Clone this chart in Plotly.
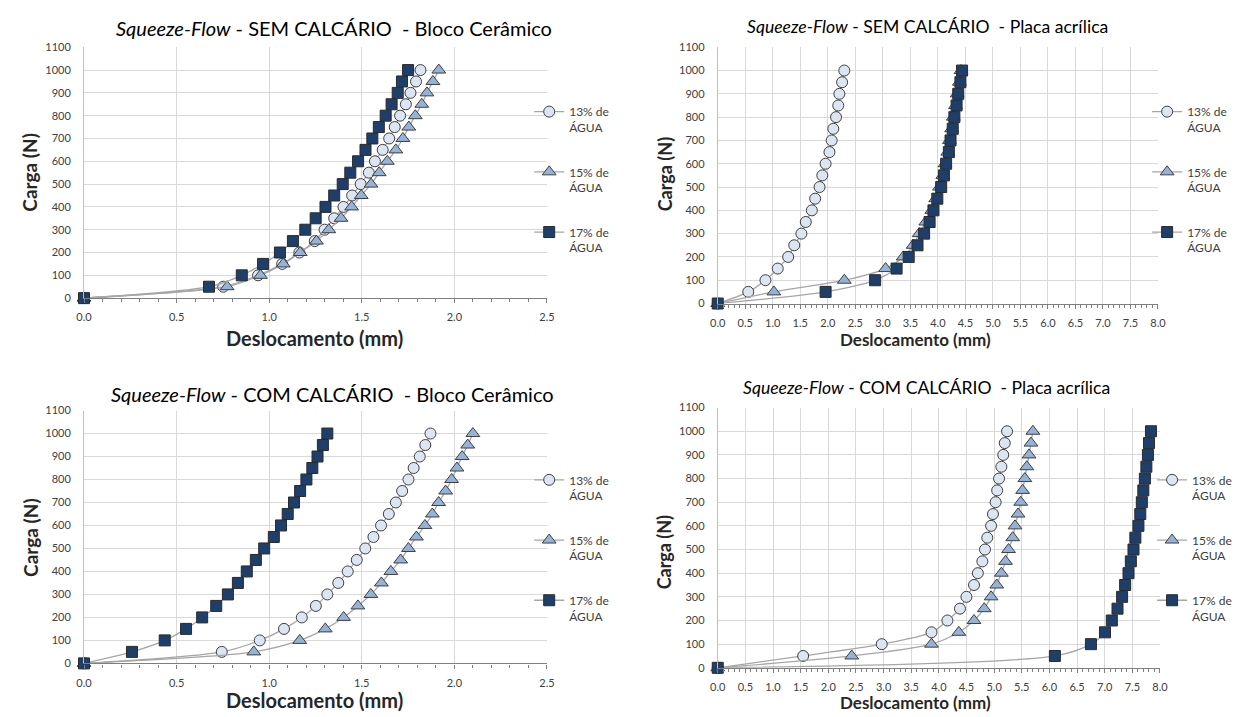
import plotly.graph_objects as go

W, H = 1242, 717

# ---------------- data ----------------
carga = [0, 50, 100, 150, 200, 250, 300, 350, 400, 450, 500,
         550, 600, 650, 700, 750, 800, 850, 900, 950, 1000]

series_names = ["13% de<br>ÁGUA", "15% de<br>ÁGUA", "17% de<br>ÁGUA"]

# Panel 1: SEM CALCÁRIO - Bloco Cerâmico
p1_13 = [0, 0.752, 0.940, 1.070, 1.163, 1.246, 1.299, 1.351, 1.401, 1.448, 1.494,
         1.538, 1.571, 1.613, 1.648, 1.678, 1.707, 1.738, 1.763, 1.793, 1.817]
p1_15 = [0, 0.773, 0.953, 1.076, 1.167, 1.255, 1.322, 1.388, 1.445, 1.497, 1.550,
         1.594, 1.638, 1.684, 1.722, 1.754, 1.789, 1.824, 1.852, 1.884, 1.916]
p1_17 = [0, 0.675, 0.852, 0.967, 1.058, 1.128, 1.195, 1.251, 1.304, 1.351, 1.397,
         1.438, 1.480, 1.520, 1.557, 1.592, 1.629, 1.661, 1.694, 1.717, 1.750]

# Panel 2: SEM CALCÁRIO - Placa acrílica
p2_13 = [0, 0.555, 0.867, 1.09, 1.28, 1.39, 1.52, 1.60, 1.71, 1.77, 1.85,
         1.90, 1.96, 2.03, 2.07, 2.10, 2.15, 2.19, 2.21, 2.26, 2.30]
p2_15 = [0, 1.02, 2.30, 3.05, 3.37, 3.55, 3.66, 3.78, 3.89, 3.96, 4.03,
         4.09, 4.13, 4.18, 4.21, 4.25, 4.28, 4.32, 4.35, 4.39, 4.42]
p2_17 = [0, 1.96, 2.86, 3.25, 3.47, 3.63, 3.75, 3.85, 3.92, 3.99, 4.06,
         4.11, 4.15, 4.20, 4.23, 4.27, 4.30, 4.34, 4.37, 4.41, 4.44]

# Panel 3: COM CALCÁRIO - Bloco Cerâmico
p3_13 = [0, 0.744, 0.949, 1.080, 1.176, 1.252, 1.314, 1.373, 1.424, 1.473, 1.519,
         1.563, 1.604, 1.646, 1.684, 1.718, 1.752, 1.780, 1.813, 1.843, 1.871]
p3_15 = [0, 0.917, 1.165, 1.303, 1.402, 1.479, 1.549, 1.606, 1.657, 1.710, 1.752,
         1.795, 1.841, 1.881, 1.915, 1.953, 1.985, 2.014, 2.042, 2.072, 2.100]
p3_17 = [0, 0.259, 0.436, 0.551, 0.638, 0.714, 0.777, 0.831, 0.879, 0.928, 0.973,
         1.025, 1.064, 1.100, 1.134, 1.167, 1.201, 1.233, 1.261, 1.290, 1.314]

# Panel 4: COM CALCÁRIO - Placa acrílica
p4_13 = [0, 1.545, 2.967, 3.867, 4.155, 4.382, 4.499, 4.636, 4.705, 4.787, 4.835,
         4.876, 4.945, 4.979, 5.027, 5.055, 5.089, 5.131, 5.165, 5.192, 5.234]
p4_15 = [0, 2.424, 3.867, 4.361, 4.636, 4.821, 4.945, 5.048, 5.131, 5.206, 5.261,
         5.337, 5.378, 5.433, 5.481, 5.515, 5.556, 5.591, 5.632, 5.666, 5.701]
p4_17 = [0, 6.099, 6.751, 7.005, 7.129, 7.232, 7.315, 7.370, 7.431, 7.473, 7.521,
         7.555, 7.610, 7.644, 7.672, 7.699, 7.727, 7.754, 7.782, 7.802, 7.837]

titles = [
    "<i>Squeeze-Flow</i> - SEM CALCÁRIO  - Bloco Cerâmico",
    "<i>Squeeze-Flow</i> - SEM CALCÁRIO  - Placa acrílica",
    "<i>Squeeze-Flow</i> - COM CALCÁRIO  - Bloco Cerâmico",
    "<i>Squeeze-Flow</i> - COM CALCÁRIO  - Placa acrílica",
]
x_title = "Deslocamento (mm)"
y_title = "Carga (N)"

# ---------------- styling ----------------
FONT = "Lato"
TXT = "#404040"
GRID = "#d9d9d9"
LINE = "#a6a6a6"
markers = [
    dict(symbol="circle", size=11, color="#dce6f2", line=dict(color="#3f3f3f", width=1)),
    dict(symbol="triangle-up", size=12, color="#95b3d7", line=dict(color="#3f3f3f", width=1)),
    dict(symbol="square", size=11, color="#1f3f6b", line=dict(color="#2a2a2a", width=1)),
]

def px_x(p):
    return p / W

def px_y(p):
    return 1 - p / H

panels = [
    dict(data=[p1_13, p1_15, p1_17], xmax=2.5, xd=(77, 546), yd=(41, 296.5),
         title=(330, 21), xt=(310, 337), yt=(22, 168), leg=(528, 92),
         ts=20, xs=20, ys=19),
    dict(data=[p2_13, p2_15, p2_17], xmax=8.0, xd=(719, 1165), yd=(41, 302),
         title=(931, 20), xt=(919, 339), yt=(665, 170), leg=(1154, 92),
         ts=17.6, xs=17, ys=18),
    dict(data=[p3_13, p3_15, p3_17], xmax=2.5, xd=(77, 546), yd=(411, 668.5),
         title=(329, 394), xt=(310, 706), yt=(22, 540), leg=(528, 467),
         ts=20, xs=20, ys=19),
    dict(data=[p4_13, p4_15, p4_17], xmax=8.0, xd=(719, 1167), yd=(408, 673),
         title=(930, 388), xt=(919, 708), yt=(665, 555), leg=(1159, 467),
         ts=17.6, xs=17, ys=18),
]

fig = go.Figure()
annotations = []
layout_axes = {}

for i, p in enumerate(panels):
    k = "" if i == 0 else str(i + 1)
    leg = "legend" + k
    for j, xs in enumerate(p["data"]):
        fig.add_trace(go.Scatter(
            x=xs, y=carga, mode="lines+markers",
            name=series_names[j],
            line=dict(color=LINE, width=1.3, shape="spline", smoothing=0.8),
            marker=markers[j],
            xaxis="x" + k, yaxis="y" + k,
            legend=leg, legendgroup=f"g{i}{j}",
            cliponaxis=False,
        ))
    layout_axes["xaxis" + k] = dict(
        domain=[px_x(p["xd"][0]), px_x(p["xd"][1])],
        anchor="y" + k, range=[0, p["xmax"]],
        dtick=0.5, tick0=0, tickformat=".1f",
        showgrid=True, gridcolor=GRID, gridwidth=1,
        showline=True, linecolor="#7f7f7f", linewidth=1.3,
        ticks="outside", ticklen=4, tickcolor="#7f7f7f",
        minor=dict(dtick=0.1, ticks="outside", ticklen=3, tickcolor="#7f7f7f", showgrid=False),
        zeroline=False, ticklabelstandoff=5,
        tickfont=dict(family=FONT, size=11, color=TXT),
    )
    layout_axes["yaxis" + k] = dict(
        domain=[px_y(p["yd"][1]), px_y(p["yd"][0])],
        anchor="x" + k, range=[0, 1100], dtick=100, tick0=0,
        showgrid=True, gridcolor=GRID, gridwidth=1,
        showline=True, linecolor="#bfbfbf", linewidth=1,
        ticks="", zeroline=False, ticklabelstandoff=10,
        tickfont=dict(family=FONT, size=11, color=TXT),
    )
    layout_axes[leg] = dict(
        x=px_x(p["leg"][0]), y=px_y(p["leg"][1]), xanchor="left", yanchor="top",
        bgcolor="rgba(0,0,0,0)", font=dict(family=FONT, size=12, color=TXT),
        tracegroupgap=26, valign="top", itemwidth=30,
    )
    annotations.append(dict(
        text=titles[i], x=px_x(p["title"][0]), y=px_y(p["title"][1]),
        xref="paper", yref="paper", showarrow=False, xanchor="center", yanchor="middle",
        font=dict(family=FONT, size=p["ts"], color="#000000"),
    ))
    annotations.append(dict(
        text="<b>" + x_title + "</b>", x=px_x(p["xt"][0]), y=px_y(p["xt"][1]),
        xref="paper", yref="paper", showarrow=False, xanchor="center", yanchor="middle",
        font=dict(family=FONT, size=p["xs"], color="#262626"),
    ))
    annotations.append(dict(
        text="<b>" + y_title + "</b>", x=px_x(p["yt"][0]), y=px_y(p["yt"][1]),
        xref="paper", yref="paper", showarrow=False, xanchor="center", yanchor="middle",
        textangle=-90,
        font=dict(family=FONT, size=p["ys"], color="#262626"),
    ))

fig.update_layout(
    width=W, height=H,
    margin=dict(l=0, r=0, t=0, b=0),
    paper_bgcolor="white", plot_bgcolor="white",
    showlegend=True,
    annotations=annotations,
    **layout_axes,
)

fig.write_html("out.html")
